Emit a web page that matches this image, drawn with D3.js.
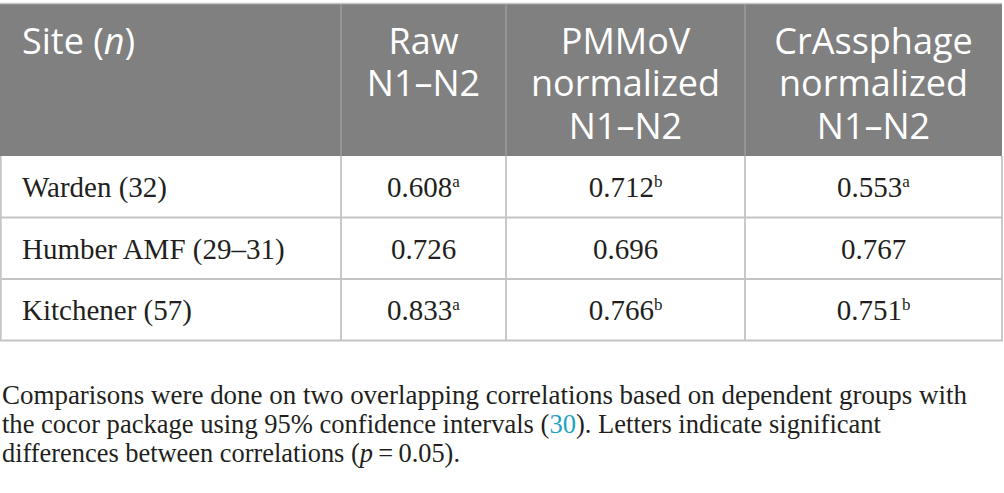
<!DOCTYPE html>
<html>
<head>
<meta charset="utf-8">
<script src="https://cdn.jsdelivr.net/npm/d3@7"></script>
<style>
  html, body { margin: 0; padding: 0; background: #ffffff; }
  svg { display: block; }
</style>
</head>
<body>
<svg id="chart" width="1004" height="493"></svg>
<script>
// ---- data ----
const headerLines = [
  ["Site (n)"],
  ["Raw", "N1\u2013N2"],
  ["PMMoV", "normalized", "N1\u2013N2"],
  ["CrAssphage", "normalized", "N1\u2013N2"]
];
const sites = ["Warden (32)", "Humber AMF (29\u201331)", "Kitchener (57)"];
const rawValues = ["0.608", "0.726", "0.833"];
const rawLetters = ["a", "", "a"];
const pmmovValues = ["0.712", "0.696", "0.766"];
const pmmovLetters = ["b", "", "b"];
const crassValues = ["0.553", "0.767", "0.751"];
const crassLetters = ["a", "", "b"];
const captionLines = [
  [{t: "Comparisons were done on two overlapping correlations based on dependent groups with"}],
  [{t: "the cocor package using 95% confidence intervals ("}, {t: "30", link: true}, {t: "). Letters indicate significant"}],
  [{t: "differences between correlations ("}, {t: "p", it: true}, {t: "\u2009=\u20090.05)."}]
];

// ---- layout ----
const svg = d3.select("#chart");
const W = 1002;
const colEdges = [0, 341, 506, 745, W];
const headerTop = 4, headerBottom = 156, tableBottom = 340.5;
const serif = "'Liberation Serif', 'Times New Roman', serif";
const sans = "'Open Sans', 'Noto Sans', sans-serif";

const y = d3.scaleBand().domain(sites).range([headerBottom, tableBottom]).padding(0);
const colCenter = i => (colEdges[i] + colEdges[i + 1]) / 2;

// header background
svg.append("rect").attr("x", 0).attr("y", headerTop).attr("width", W).attr("height", headerBottom - headerTop)
  .attr("fill", "#808080");
svg.append("line").attr("x1", 0).attr("x2", W).attr("y1", headerTop - 0.5).attr("y2", headerTop - 0.5)
  .attr("stroke", "#c8c8c8").attr("stroke-width", 1.5);

// header column separators
svg.selectAll("line.hsep").data(colEdges.slice(1, -1)).join("line").attr("class", "hsep")
  .attr("x1", d => d).attr("x2", d => d).attr("y1", headerTop).attr("y2", headerBottom)
  .attr("stroke", "#9c9c9c").attr("stroke-width", 1.5);

// body grid: horizontal lines
const rowLines = sites.map(s => y(s) + y.bandwidth());
svg.selectAll("line.hrow").data(rowLines).join("line").attr("class", "hrow")
  .attr("x1", 0).attr("x2", W + 1).attr("y1", d => d).attr("y2", d => d)
  .attr("stroke", "#c4c4c4").attr("stroke-width", 1.8);
// body grid: vertical lines
svg.selectAll("line.vcol").data(colEdges.map((d, i) => i === 0 ? 0.8 : d)).join("line").attr("class", "vcol")
  .attr("x1", d => d).attr("x2", d => d).attr("y1", headerBottom).attr("y2", tableBottom)
  .attr("stroke", "#c4c4c4").attr("stroke-width", 1.8);

// header text (one text element per column, one tspan per line)
const lineH = 42.5, firstBase = 53.5;
headerLines.forEach((lines, ci) => {
  const t = svg.append("text")
    .attr("y", firstBase)
    .attr("fill", "#ffffff").attr("font-family", sans).attr("font-size", 36);
  if (ci === 0) {
    t.attr("x", 22).attr("text-anchor", "start");
    t.append("tspan").text("Site (");
    t.append("tspan").attr("font-style", "italic").text("n");
    t.append("tspan").text(")");
  } else {
    t.attr("text-anchor", "middle");
    lines.forEach((ln, li) => {
      t.append("tspan").attr("x", colCenter(ci)).attr("y", firstBase + li * lineH).text(ln);
    });
  }
});

// body text
const baseOff = 41;
const bodySize = 29;
svg.selectAll("text.site").data(sites).join("text").attr("class", "site")
  .attr("x", 22).attr("y", d => y(d) + baseOff)
  .attr("font-family", serif).attr("font-size", bodySize).attr("fill", "#231f20")
  .text(d => d);

const cols = [[rawValues, rawLetters], [pmmovValues, pmmovLetters], [crassValues, crassLetters]];
cols.forEach(([vals, lets], k) => {
  const ci = k + 1;
  vals.forEach((v, r) => {
    const t = svg.append("text")
      .attr("x", colCenter(ci)).attr("y", y(sites[r]) + baseOff)
      .attr("text-anchor", "middle")
      .attr("font-family", serif).attr("font-size", bodySize).attr("fill", "#231f20");
    t.append("tspan").text(v);
    if (lets[r]) {
      t.append("tspan").attr("font-size", 17).attr("dy", -10).text(lets[r]);
    }
  });
});

// caption
const capBase = [404, 433, 462];
const capWidth = [965, 879, 458];
captionLines.forEach((parts, i) => {
  const t = svg.append("text").attr("x", 2).attr("y", capBase[i])
    .attr("font-family", serif).attr("font-size", 27).attr("fill", "#231f20");
  parts.forEach(p => {
    const ts = t.append("tspan").text(p.t);
    if (p.link) ts.attr("fill", "#1fa3c2");
    if (p.it) ts.attr("font-style", "italic");
  });
  const natural = t.node().getComputedTextLength();
  const fs = 27 * capWidth[i] / natural;
  t.attr("font-size", Math.min(Math.max(fs, 24), 30));
  t.attr("textLength", capWidth[i]).attr("lengthAdjust", "spacingAndGlyphs");
});
</script>
</body>
</html>
